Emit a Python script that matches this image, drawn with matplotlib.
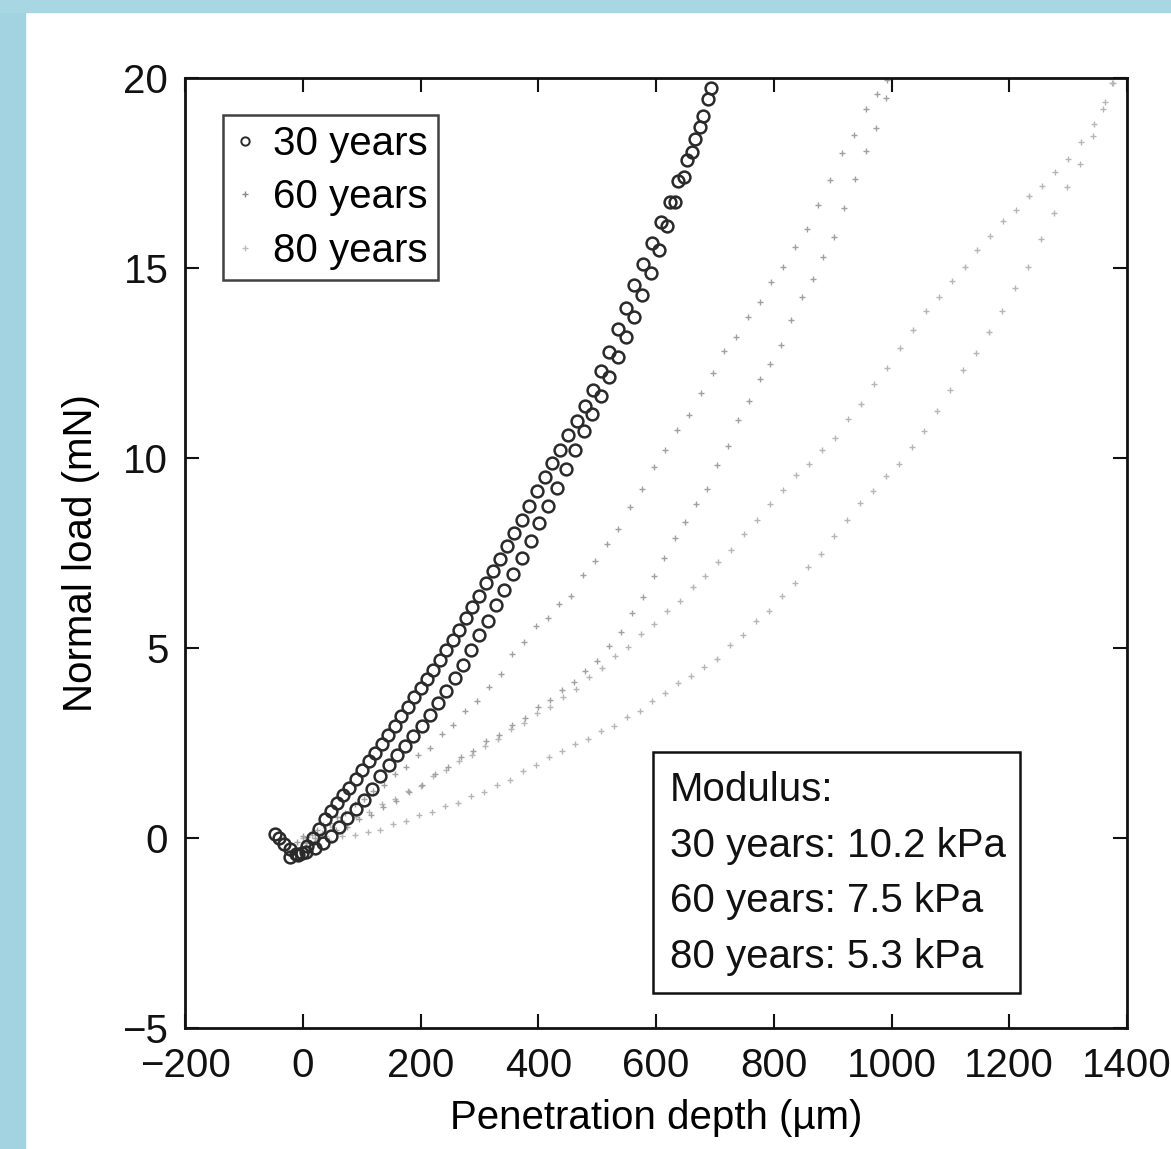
import matplotlib
matplotlib.use("Agg")
import matplotlib.pyplot as plt
from matplotlib.patches import Rectangle
from matplotlib.lines import Line2D

plt.rcParams['font.family'] = ['Liberation Sans', 'DejaVu Sans']

# 30 years: loading branch (outer) and unloading branch (inner)
x30_load = [-47, -40, -32, -22, -12, -2, 8, 18, 28, 38, 48, 58, 68, 79, 90, 101, 112, 123,
            134, 145, 156, 167, 178, 189, 200, 211, 222, 233, 244, 255, 266, 277, 288, 299,
            311, 323, 335, 347, 359, 372, 385, 398, 411, 424, 437, 451, 465, 479, 493, 507,
            521, 535, 549, 563, 578, 593, 608, 623, 638, 652, 666, 680, 694]
y30_load = [0.10, 0.00, -0.15, -0.30, -0.42, -0.40, -0.22, 0.00, 0.25, 0.50, 0.72, 0.92,
            1.12, 1.32, 1.55, 1.78, 2.02, 2.25, 2.48, 2.72, 2.96, 3.20, 3.45, 3.70, 3.94,
            4.18, 4.42, 4.68, 4.94, 5.20, 5.48, 5.78, 6.08, 6.38, 6.70, 7.02, 7.35, 7.68,
            8.02, 8.38, 8.74, 9.12, 9.50, 9.86, 10.22, 10.60, 10.98, 11.38, 11.80, 12.28,
            12.80, 13.40, 13.95, 14.55, 15.10, 15.65, 16.20, 16.75, 17.30, 17.85, 18.40,
            19.00, 19.75]
x30_unload = [-22, -8, 6, 20, 34, 48, 62, 76, 90, 104, 118, 132, 146, 160, 174, 188, 202,
              216, 230, 244, 258, 272, 286, 300, 314, 328, 342, 357, 372, 387, 402, 417,
              432, 447, 462, 477, 492, 507, 521, 535, 549, 563, 577, 591, 605, 619, 633,
              647, 661, 675, 689]
y30_unload = [-0.50, -0.45, -0.38, -0.25, -0.12, 0.05, 0.30, 0.52, 0.76, 1.00, 1.30, 1.62,
              1.92, 2.18, 2.43, 2.68, 2.95, 3.25, 3.56, 3.88, 4.20, 4.55, 4.95, 5.35, 5.72,
              6.12, 6.52, 6.95, 7.38, 7.82, 8.28, 8.75, 9.22, 9.72, 10.22, 10.70, 11.15,
              11.62, 12.12, 12.65, 13.18, 13.72, 14.28, 14.88, 15.48, 16.10, 16.75, 17.40,
              18.05, 18.70, 19.45]

# 60 years
x60_load = [-10, 0, 8, 16, 25, 35, 46, 58, 72, 88, 104, 120, 138, 156, 175, 195, 216, 236,
            256, 276, 296, 316, 336, 356, 376, 396, 416, 436, 456, 476, 496, 516, 536, 556,
            576, 596, 616, 636, 656, 676, 696, 716, 736, 756, 776, 796, 816, 836, 856, 876,
            896, 916, 936, 956, 976, 992]
y60_load = [-0.10, 0.05, 0.02, 0.15, 0.20, 0.35, 0.40, 0.55, 0.66, 0.90, 1.02, 1.25, 1.40,
            1.68, 1.88, 2.18, 2.38, 2.74, 2.98, 3.34, 3.60, 3.98, 4.32, 4.84, 5.15, 5.58,
            5.80, 6.15, 6.38, 6.92, 7.28, 7.74, 8.12, 8.70, 9.18, 9.76, 10.20, 10.74, 11.12,
            11.70, 12.25, 12.82, 13.18, 13.70, 14.10, 14.62, 15.02, 15.55, 16.02, 16.66,
            17.32, 18.02, 18.50, 19.18, 19.58, 19.95]
x60_unload = [5, 20, 38, 56, 76, 96, 116, 136, 158, 180, 202, 224, 246, 268, 290, 312, 334,
              356, 378, 400, 420, 440, 460, 480, 500, 520, 540, 560, 578, 596, 614, 632,
              650, 668, 686, 704, 722, 740, 758, 776, 794, 812, 830, 848, 866, 884, 902,
              920, 938, 956, 974, 990]
y60_unload = [-0.12, 0.00, 0.06, 0.20, 0.30, 0.50, 0.60, 0.82, 0.98, 1.22, 1.40, 1.68, 1.86,
              2.12, 2.28, 2.55, 2.72, 2.98, 3.15, 3.45, 3.62, 3.90, 4.10, 4.40, 4.66, 5.05,
              5.42, 5.92, 6.35, 6.90, 7.36, 7.90, 8.32, 8.78, 9.18, 9.82, 10.32, 11.00,
              11.50, 12.08, 12.48, 12.98, 13.62, 14.25, 14.72, 15.30, 15.82, 16.58, 17.35,
              18.08, 18.68, 19.48]

# 80 years
x80_load = [0, 15, 32, 50, 70, 90, 112, 134, 156, 178, 200, 222, 244, 266, 288, 310, 332,
            354, 376, 398, 420, 442, 464, 486, 508, 530, 552, 574, 596, 618, 640, 662, 684,
            706, 728, 750, 772, 794, 816, 838, 860, 882, 904, 926, 948, 970, 992, 1014,
            1036, 1058, 1080, 1102, 1124, 1146, 1168, 1190, 1212, 1234, 1256, 1278, 1300,
            1322, 1344, 1362, 1376]
y80_load = [0.00, 0.08, 0.14, 0.30, 0.40, 0.56, 0.68, 0.90, 1.03, 1.24, 1.38, 1.62, 1.78,
            2.02, 2.18, 2.42, 2.60, 2.86, 3.03, 3.28, 3.46, 3.72, 3.93, 4.24, 4.48, 4.78,
            5.02, 5.36, 5.62, 5.97, 6.23, 6.60, 6.90, 7.27, 7.58, 8.00, 8.36, 8.80, 9.16,
            9.54, 9.83, 10.20, 10.53, 11.02, 11.43, 11.94, 12.38, 12.90, 13.36, 13.87,
            14.23, 14.67, 15.03, 15.47, 15.83, 16.24, 16.53, 16.90, 17.16, 17.52, 17.86,
            18.32, 18.78, 19.37, 19.88]
x80_unload = [5, 25, 45, 66, 88, 110, 132, 154, 176, 198, 220, 242, 264, 286, 308, 330, 352,
              374, 396, 418, 440, 462, 484, 506, 528, 550, 572, 594, 616, 638, 660, 682,
              704, 726, 748, 770, 792, 814, 836, 858, 880, 902, 924, 946, 968, 990, 1012,
              1034, 1056, 1078, 1100, 1122, 1144, 1166, 1188, 1210, 1232, 1254, 1276, 1298,
              1320, 1342, 1360, 1374]
y80_unload = [-0.10, -0.06, -0.05, 0.04, 0.07, 0.17, 0.22, 0.36, 0.44, 0.60, 0.68, 0.84,
              0.92, 1.10, 1.20, 1.40, 1.53, 1.76, 1.92, 2.14, 2.28, 2.48, 2.60, 2.82, 2.96,
              3.18, 3.33, 3.60, 3.82, 4.08, 4.26, 4.50, 4.72, 5.07, 5.35, 5.70, 5.98, 6.37,
              6.72, 7.14, 7.48, 7.94, 8.36, 8.82, 9.13, 9.52, 9.84, 10.28, 10.70, 11.24,
              11.78, 12.32, 12.76, 13.32, 13.88, 14.47, 15.03, 15.77, 16.46, 17.12, 17.73,
              18.47, 19.18, 19.86]

legend_labels = ['30 years', '60 years', '80 years']
modulus_lines = ['Modulus:', '30 years: 10.2 kPa', '60 years: 7.5 kPa', '80 years: 5.3 kPa']
xticks = [-200, 0, 200, 400, 600, 800, 1000, 1200, 1400]
yticks = [-5, 0, 5, 10, 15, 20]

FS = 29

W, H = 1171, 1149
fig = plt.figure(figsize=(W / 100, H / 100), dpi=100)
fig.patches.append(Rectangle((0, 0), 25 / W, 1, transform=fig.transFigure,
                             color='#a3d3e1', zorder=0))
fig.patches.append(Rectangle((0, 1 - 12 / H), 1, 12 / H, transform=fig.transFigure,
                             color='#a8d7e3', zorder=0))

ax = fig.add_axes([185 / W, 1 - 1028 / H, (1127 - 185) / W, (1028 - 78) / H])

s60 = dict(ls='none', marker='+', ms=4.5, mew=1.0, color='#a0a0a0')
s80 = dict(ls='none', marker='+', ms=4.5, mew=1.0, color='#b6b6b6')
s30 = dict(ls='none', marker='o', ms=8.5, mfc='none', mec='#2a2a2a', mew=1.8)

ax.plot(x80_load, y80_load, **s80)
ax.plot(x80_unload, y80_unload, **s80)
ax.plot(x60_load, y60_load, **s60)
ax.plot(x60_unload, y60_unload, **s60)
ax.plot(x30_load, y30_load, **s30)
ax.plot(x30_unload, y30_unload, **s30)

ax.set_xlim(-200, 1400)
ax.set_ylim(-5, 20)
ax.set_xticks(xticks)
ax.set_yticks(yticks)
ax.set_xticklabels([str(t).replace('-', '\u2212') for t in xticks])
ax.set_yticklabels([str(t).replace('-', '\u2212') for t in yticks])
ax.tick_params(direction='in', length=10, width=1.5, labelsize=FS, top=True, right=True,
               colors='#111111')
ax.tick_params(axis='x', pad=14)
ax.tick_params(axis='y', pad=12)
for sp in ax.spines.values():
    sp.set_linewidth(2)
    sp.set_color('#111111')

ax.set_xlabel('Penetration depth (\u00b5m)', fontsize=FS, labelpad=10)
ax.set_ylabel('Normal load (mN)', fontsize=FS, labelpad=16)

handles = [
    Line2D([], [], ls='none', marker='o', ms=6, mfc='none', mec='#2a2a2a', mew=1.4),
    Line2D([], [], ls='none', marker='+', ms=4, mew=1.0, color='#888888'),
    Line2D([], [], ls='none', marker='+', ms=4, mew=1.0, color='#bcbcbc'),
]
leg = ax.legend(handles, legend_labels, loc='upper left', bbox_to_anchor=(0.040, 0.961),
                borderaxespad=0, fontsize=FS, frameon=True, fancybox=False,
                handlelength=0.6, handletextpad=0.4, labelspacing=0.38, borderpad=0.25)
leg.get_frame().set_edgecolor('#111111')
leg.get_frame().set_linewidth(1.8)

ax.add_patch(Rectangle((0.497, 0.0368), 0.389, 0.2537, transform=ax.transAxes,
                       fill=False, ec='#111111', lw=1.8))
for i, line in enumerate(modulus_lines):
    ax.text(0.515, 0.2505 - i * 0.0586, line, transform=ax.transAxes, fontsize=FS,
            va='center', ha='left', color='#111111')

fig.savefig('out.png', dpi=100)
